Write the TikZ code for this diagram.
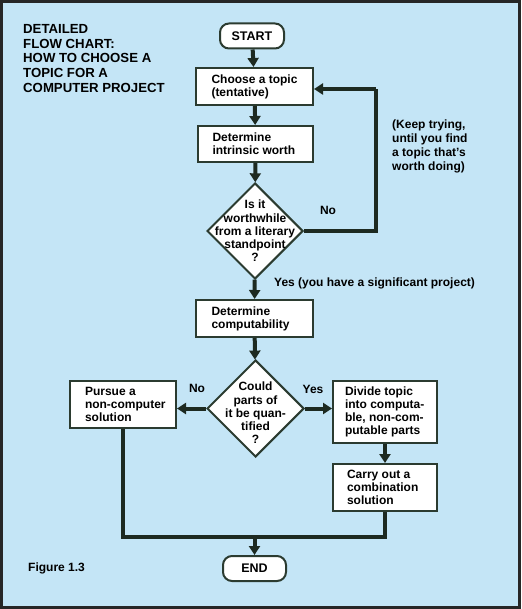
\documentclass[tikz,border=0pt]{standalone}
\usepackage{fontspec}
\setmainfont{Liberation Sans}
\usepackage{tikz}
\usetikzlibrary{shapes,positioning,calc}
\usetikzlibrary{shapes.geometric}
\usetikzlibrary{arrows.meta}
\definecolor{sfondo}{HTML}{C4E5F6}
\definecolor{bordo}{HTML}{2B3B30}
\definecolor{linea}{HTML}{1D2A21}
\tikzstyle{terminale} = [rectangle, rounded corners=9pt, minimum width=64pt, minimum height=25pt, text centered, draw=bordo, line width=2pt, fill=white, font=\bfseries\fontsize{12.5}{14}\selectfont]
\tikzstyle{blocco} = [rectangle, draw=bordo, line width=2pt, fill=white, inner sep=0pt, font=\bfseries\fontsize{12}{13}\selectfont]
\tikzstyle{scelta} = [diamond, minimum width=96pt, minimum height=96pt, inner sep=0pt, draw=bordo, line width=2pt, fill=white]
\tikzstyle{testo} = [align=center, inner sep=0pt, font=\bfseries\fontsize{12}{13.3}\selectfont]
\tikzstyle{etichetta} = [align=left, inner sep=0pt, font=\bfseries\fontsize{12}{14}\selectfont]
\tikzstyle{linea} = [line width=4pt, draw=linea]
\tikzstyle{arrow} = [line width=4pt, draw=linea, -{Triangle[length=9pt,width=11pt]}]

\begin{document}
\begin{tikzpicture}[x=1pt,y=-1pt]
						% sfondo e cornice
						\fill[sfondo] (0,0) rectangle (521,609);
						\draw[gray!30!black, line width=2.5pt] (1.5,1.5) rectangle (519.5,607.5);
						\useasboundingbox (0,0) rectangle (521,609);
						\node (titolo) at (23,24.5) [anchor=north west, align=left, inner sep=0pt, font=\bfseries\fontsize{13.2}{14.6}\selectfont] {DETAILED\\FLOW CHART:\\HOW TO CHOOSE A\\TOPIC FOR A\\COMPUTER PROJECT};
						% blocchi
						\node (start) at (252,36) [terminale] {START};
						\node (scegli) at (254.5,86.5) [blocco, minimum width=117pt, minimum height=37pt] {\parbox{86pt}{Choose a topic\\(tentative)}};
						\node (valore) at (255.5,144) [blocco, minimum width=115pt, minimum height=36pt] {\parbox{86pt}{Determine\\intrinsic worth}};
						\node (d1) at (255,231) [scelta] {};
						\node (d1t) at (d1.center) [testo] {Is it\\worthwhile\\from a literary\\standpoint\\?};
						\node (calc) at (254.5,318.5) [blocco, minimum width=117pt, minimum height=37pt] {\parbox{86pt}{Determine\\computability}};
						\node (d2) at (255.5,408.5) [scelta, minimum width=97pt, minimum height=97pt] {};
						\node (d2t) at (255.5,413) [testo] {Could\\parts of\\it be quan-\\tified\\?};
						\node (altro) at (123,404.5) [blocco, minimum width=106pt, minimum height=47pt] {\parbox{76pt}{Pursue a\\\mbox{non-computer}\\solution}};
						\node (dividi) at (385,412) [blocco, minimum width=104pt, minimum height=62pt] {\parbox{80pt}{Divide topic\\\mbox{into computa-}\\\mbox{ble, non-com-}\\\mbox{putable parts}}};
						\node (misto) at (385,487.5) [blocco, minimum width=104pt, minimum height=47pt] {\parbox{76pt}{Carry out a\\combination\\solution}};
						\node (end) at (254.5,568.5) [terminale, minimum width=63pt] {END};
						% testi
						\node (no1) at (328,210) [etichetta] {No};
						\node (prova) at (392,120) [etichetta, anchor=north west] {(Keep trying,\\until you find\\a topic that's\\worth doing)};
						\node (si1) at (274,283) [etichetta, anchor=west] {Yes (you have a significant project)};
						\node (no2) at (197,388) [etichetta] {No};
						\node (si2) at (313,389) [etichetta] {Yes};
						\node (fig) at (28,568) [etichetta, anchor=west] {Figure 1.3};
						% connettori
						\coordinate (giro) at (376,89);
						\coordinate (unione) at (254.5,537);
						\draw[arrow] (start) -- (scegli);
						\draw[arrow] (scegli) -- (valore);
						\draw[arrow] (valore) -- (d1);
						\draw[linea] (d1.east) -| (giro);
						\draw[arrow] (giro) -- (scegli.east |- giro);
						\draw[arrow] (d1) -- (calc);
						\draw[arrow] (calc) -- (d2);
						\draw[arrow] (d2.west) -- (altro.east |- d2.west);
						\draw[arrow] (d2.east) -- (dividi.west |- d2.east);
						\draw[arrow] (dividi) -- (misto);
						\draw[linea, line join=miter] (altro.south) |- (unione) -| (misto.south);
						\draw[arrow] (unione) -- (end);
					\end{tikzpicture}
\end{document}
